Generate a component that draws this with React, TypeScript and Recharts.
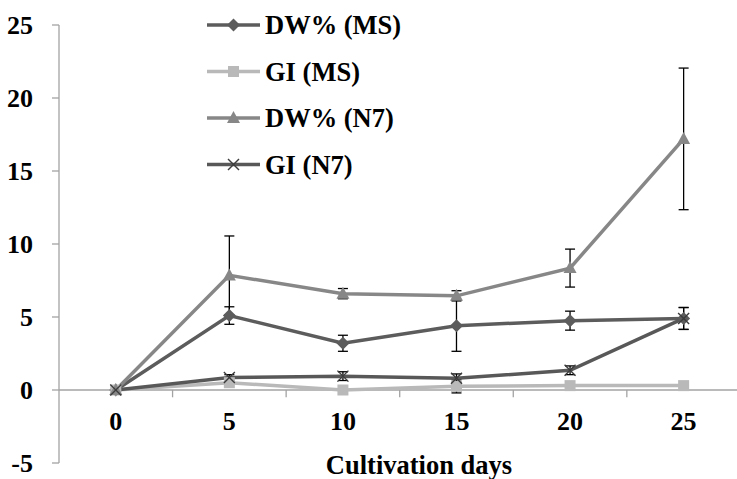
import React from "react";
import {
  LineChart,
  Line,
  XAxis,
  YAxis,
  ErrorBar,
  ReferenceLine,
} from "recharts";

const days = [0, 5, 10, 15, 20, 25];
const dwMS = [0, 5.1, 3.2, 4.4, 4.75, 4.9];
const dwMSErr = [null, 0.6, 0.55, 1.75, 0.65, 0.75];
const giMS = [0, 0.5, 0, 0.25, 0.3, 0.3];
const giMSErr = [null, null, null, 0.45, null, null];
const dwN7 = [0, 7.85, 6.6, 6.45, 8.35, 17.2];
const dwN7Err = [null, 2.7, 0.35, 0.35, 1.3, 4.85];
const giN7 = [0, 0.85, 0.95, 0.8, 1.35, 4.9];
const giN7Err = [null, 0.2, 0.3, 0.3, 0.3, 0.75];
const yTicks = [-5, 0, 5, 10, 15, 20, 25];
const categoryBounds = [2.5, 7.5, 12.5, 17.5, 22.5];

const seriesInfo = [
  { key: "dwMS", name: "DW% (MS)", color: "#5c5c5c", marker: "diamond" },
  { key: "giMS", name: "GI (MS)", color: "#b9b9b9", marker: "square" },
  { key: "dwN7", name: "DW% (N7)", color: "#878787", marker: "triangle" },
  { key: "giN7", name: "GI (N7)", color: "#585858", marker: "x" },
];

const data = days.map((d, i) => ({
  day: d,
  dwMS: dwMS[i],
  dwMSErr: dwMSErr[i],
  giMS: giMS[i],
  giMSErr: giMSErr[i],
  dwN7: dwN7[i],
  dwN7Err: dwN7Err[i],
  giN7: giN7[i],
  giN7Err: giN7Err[i],
}));

const FONT = "'Liberation Serif', 'Times New Roman', Times, serif";
const textStyle = { fontFamily: FONT, fontWeight: 700, fill: "#000" } as const;

function Marker({ kind, cx, cy, color }: any) {
  if (cx == null || cy == null) return null;
  if (kind === "diamond") {
    const r = 6.5;
    return (
      <polygon
        points={`${cx},${cy - r} ${cx + r},${cy} ${cx},${cy + r} ${cx - r},${cy}`}
        fill={color}
      />
    );
  }
  if (kind === "square") {
    return <rect x={cx - 5.5} y={cy - 5.5} width={11} height={11} fill={color} />;
  }
  if (kind === "triangle") {
    return (
      <polygon
        points={`${cx},${cy - 7} ${cx + 6.5},${cy + 5} ${cx - 6.5},${cy + 5}`}
        fill={color}
      />
    );
  }
  return (
    <g stroke="#3c3c3c" strokeWidth={1.4}>
      <line x1={cx - 5.5} y1={cy - 5.5} x2={cx + 5.5} y2={cy + 5.5} />
      <line x1={cx - 5.5} y1={cy + 5.5} x2={cx + 5.5} y2={cy - 5.5} />
    </g>
  );
}

function XTick(props: any) {
  const { x, y, payload } = props;
  return (
    <text x={x} y={y - 33} textAnchor="middle" fontSize={26} fontFamily={FONT} fontWeight={700} fill="#000" style={textStyle}>
      {payload.value}
    </text>
  );
}

function YTick(props: any) {
  const { x, y, payload } = props;
  return (
    <text x={x} y={y + 9} textAnchor="end" fontSize={26} fontFamily={FONT} fontWeight={700} fill="#000" style={textStyle}>
      {payload.value}
    </text>
  );
}

function LegendBlock() {
  return (
    <g transform="translate(205, 8)">
      {seriesInfo.map((s, i) => {
        const y = 17 + i * 46.5;
        return (
          <g key={s.key}>
            <line x1={2} y1={y} x2={55} y2={y} stroke={s.color} strokeWidth={3.5} />
            <Marker kind={s.marker} cx={28.5} cy={y} color={s.color} />
            <text x={60} y={y + 9} fontSize={26.5} fontFamily={FONT} fontWeight={700} style={textStyle}>
              {s.name}
            </text>
          </g>
        );
      })}
    </g>
  );
}

export default function App() {
  return (
    <div style={{ position: "absolute", left: 0, top: 0, background: "#fff", fontFamily: FONT }}>
      <LineChart
        width={737}
        height={479}
        data={data}
        margin={{ top: 25, right: 0, bottom: 0, left: 0 }}
        style={{ fontFamily: FONT }}
      >
        <XAxis
          type="number"
          dataKey="day"
          domain={[-2.5, 27.35]}
          ticks={days}
          allowDataOverflow
          axisLine={false}
          tickLine={false}
          tickSize={0}
          tickMargin={0}
          height={16}
          tick={<XTick />}
          interval={0}
        />
        <YAxis
          type="number"
          domain={[-5, 25]}
          ticks={yTicks}
          width={59}
          axisLine={{ stroke: "#a3a3a3", strokeWidth: 1.3 }}
          tickLine={{ stroke: "#a3a3a3", strokeWidth: 1.3 }}
          tickSize={7}
          tickMargin={19}
          tick={<YTick />}
          interval={0}
        />
        <ReferenceLine y={0} stroke="#a3a3a3" strokeWidth={1.5} />
        {categoryBounds.map((b) => (
          <ReferenceLine
            key={b}
            segment={[
              { x: b, y: 0 },
              { x: b, y: -0.5 },
            ]}
            stroke="#a3a3a3"
            strokeWidth={1.3}
          />
        ))}
        {seriesInfo.map((s) => (
          <Line
            key={s.key}
            type="linear"
            dataKey={s.key}
            name={s.name}
            stroke={s.color}
            strokeWidth={3.5}
            isAnimationActive={false}
            dot={(p: any) => (
              <Marker key={`${s.key}-${p.index}`} kind={s.marker} cx={p.cx} cy={p.cy} color={s.color} />
            )}
            activeDot={false}
          >
            <ErrorBar
              dataKey={`${s.key}Err`}
              direction="y"
              width={5}
              stroke="#000"
              strokeWidth={1.3}
              isAnimationActive={false}
            />
          </Line>
        ))}
        <LegendBlock />
        <text x={419} y={474} textAnchor="middle" fontSize={26.5} fontFamily={FONT} fontWeight={700} style={textStyle}>
          Cultivation days
        </text>
      </LineChart>
    </div>
  );
}
